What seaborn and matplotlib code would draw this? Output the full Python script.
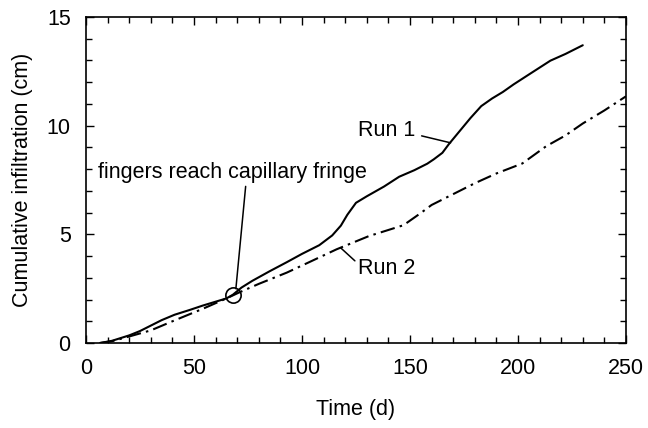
import numpy as np
import pandas as pd
import matplotlib
matplotlib.use("Agg")
import matplotlib.pyplot as plt
import seaborn as sns

# values (time in days, infiltration in cm)
run1_t = [6.5, 12, 20, 25, 30, 35, 41, 48, 54, 60, 65, 68, 72, 77, 85, 93, 100, 108,
          114, 118, 121, 125, 130, 138, 145, 152, 158, 161, 165, 168, 173, 178, 183,
          188, 193, 198, 205, 215, 222, 230]
run1_y = [0, 0.1, 0.35, 0.55, 0.8, 1.05, 1.3, 1.52, 1.72, 1.9, 2.05, 2.22, 2.55, 2.86,
          3.3, 3.72, 4.1, 4.5, 4.95, 5.4, 5.9, 6.45, 6.75, 7.2, 7.65, 7.95, 8.25, 8.45,
          8.75, 9.15, 9.75, 10.35, 10.9, 11.25, 11.55, 11.9, 12.35, 12.99, 13.3, 13.7]

run2_t = [6.5, 12, 20, 30, 41, 54, 65, 71, 80, 93, 104, 116, 131, 140, 147, 151, 155,
          160, 170, 180, 190, 202, 213, 222, 230, 240, 250]
run2_y = [0, 0.08, 0.3, 0.58, 1.04, 1.57, 2.05, 2.33, 2.72, 3.24, 3.75, 4.31, 4.92, 5.2,
          5.42, 5.7, 5.98, 6.35, 6.85, 7.35, 7.8, 8.26, 9.05, 9.55, 10.1, 10.7, 11.35]

finger_t, finger_y = 68.2, 2.22

df = pd.concat([
    pd.DataFrame({"t": run1_t, "y": run1_y, "run": "Run 1"}),
    pd.DataFrame({"t": run2_t, "y": run2_y, "run": "Run 2"}),
])

sns.set_style("ticks")
plt.rcParams["font.family"] = ["Liberation Sans", "DejaVu Sans"]
plt.rcParams["font.size"] = 15.5
for k in ["text.color", "axes.labelcolor", "xtick.color", "ytick.color", "axes.edgecolor"]:
    plt.rcParams[k] = "black"

fig = plt.figure(figsize=(6.48, 4.28), dpi=100)
ax = fig.add_axes([0.1327, 0.1986, 0.8333, 0.7617])

sns.lineplot(data=df[df.run == "Run 1"], x="t", y="y", color="black", lw=1.5,
             sort=False, estimator=None, ax=ax)
sns.lineplot(data=df[df.run == "Run 2"], x="t", y="y", color="black", lw=1.5,
             sort=False, estimator=None, ax=ax, dashes=False)
ax.lines[1].set_dashes([7, 2.5, 1.2, 2.5])

ax.plot([finger_t], [finger_y], marker="o", ms=11, mfc="none", mec="black", mew=1.2)

ax.annotate("fingers reach capillary fringe", xy=(69.4, 2.5), xytext=(5.6, 7.84),
            ha="left", va="center", fontsize=15.5,
            arrowprops=dict(arrowstyle="-", color="black", lw=1.1,
                            shrinkA=0, shrinkB=0, relpos=(0.55, 0)))
ax.plot([155.4, 168.8], [9.53, 9.21], color="black", lw=1.1)
ax.text(125.9, 9.76, "Run 1", ha="left", va="center", fontsize=15.5)
ax.plot([124.5, 117.9], [3.78, 4.38], color="black", lw=1.1)
ax.text(125.9, 3.41, "Run 2", ha="left", va="center", fontsize=15.5)

ax.set_xlim(0, 250)
ax.set_ylim(0, 15)
ax.set_xticks([0, 50, 100, 150, 200, 250])
ax.set_yticks([0, 5, 10, 15])
ax.set_xticks(np.arange(0, 251, 10), minor=True)
ax.set_yticks(np.arange(0, 16, 1), minor=True)
ax.tick_params(which="both", direction="in", top=True, right=True, width=1,
               labelsize=15.5, pad=11)
ax.tick_params(which="major", length=6)
ax.tick_params(which="minor", length=4)
for s in ax.spines.values():
    s.set_linewidth(1.2)
    s.set_color("black")

ax.set_xlabel("Time (d)", fontsize=15.5, labelpad=14)
ax.set_ylabel("Cumulative infiltration (cm)", fontsize=15.5, labelpad=10)

fig.savefig("out.png", dpi=100)
